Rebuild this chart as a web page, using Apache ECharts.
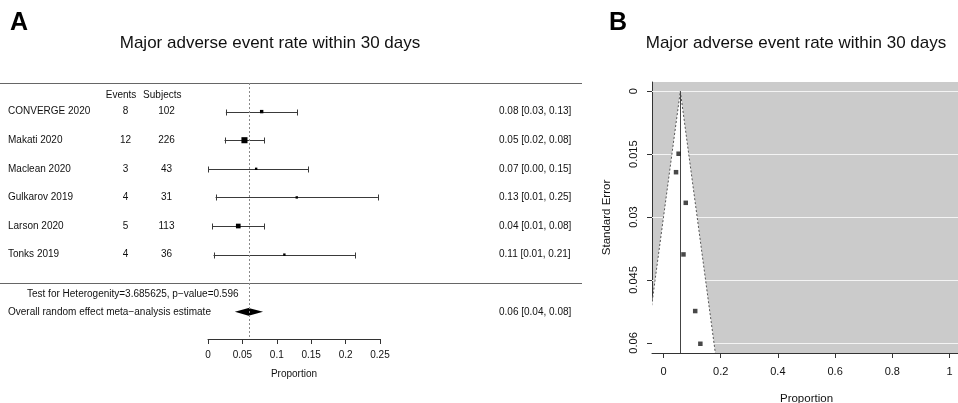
<!DOCTYPE html>
<html><head><meta charset="utf-8">
<script src="https://cdn.jsdelivr.net/npm/echarts@6/dist/echarts.min.js"></script>
<style>html,body{margin:0;padding:0;background:#fff}#c{width:958px;height:403px}</style>
</head><body><div id="c"></div>
<script>
// ---------------- DATA ----------------
const studies = ['CONVERGE 2020','Makati 2020','Maclean 2020','Gulkarov 2019','Larson 2020','Tonks 2019'];
const events = [8, 12, 3, 4, 5, 4];
const subjects = [102, 226, 43, 31, 113, 36];
const estimates = [0.078, 0.053, 0.070, 0.129, 0.044, 0.111];
const ciLower = [0.026, 0.024, 0.000, 0.011, 0.006, 0.008];
const ciUpper = [0.130, 0.082, 0.146, 0.247, 0.082, 0.214];
const ciLabels = ['0.08 [0.03, 0.13]','0.05 [0.02, 0.08]','0.07 [0.00, 0.15]','0.13 [0.01, 0.25]','0.04 [0.01, 0.08]','0.11 [0.01, 0.21]'];
const weightsPct = [14.3, 45.5, 6.7, 2.8, 27.1, 3.7];
const standardErrors = [0.0266, 0.0149, 0.0389, 0.0602, 0.0193, 0.0524];
const overallCI = [0.039, 0.059, 0.080]; // lower, estimate, upper
const overallLabel = '0.06 [0.04, 0.08]';
const heterogeneityText = 'Test for Heterogenity=3.685625, p\u2212value=0.596';
const overallText = 'Overall random effect meta\u2212analysis estimate';
const headerLabels = ['Events', 'Subjects'];
const forestXTicks = [0, 0.05, 0.1, 0.15, 0.2, 0.25];
const funnelXTicks = [0, 0.2, 0.4, 0.6, 0.8, 1];
const funnelYTicks = [0, 0.015, 0.03, 0.045, 0.06];
const titleText = 'Major adverse event rate within 30 days';
const axisName = 'Proportion';
const funnelYName = 'Standard Error';

// ---------------- LAYOUT / STYLE ----------------
const FONT = '"Liberation Sans", Arial, Helvetica, sans-serif';
const TXT = '#111';
const ROW_MAX = 8.95;          // forest y extent (rows)
const HEADER_ROW = 0.42, RULE2_ROW = 7, HET_ROW = 7.39, OVERALL_ROW = 8;
const COL_NAME = 8, COL_EVENTS = 125.5, COL_SUBJ = 166.5, COL_CI = 499, COL_HET = 27;
const HDR_EVENTS = 121, HDR_SUBJ = 162.3;
const FUNNEL_Y_MIN = -0.0022, FUNNEL_Y_MAX = 0.0624, Z = 1.96;

const cells = [];
cells.push({x: HDR_EVENTS, row: HEADER_ROW, text: headerLabels[0], align: 'center'});
cells.push({x: HDR_SUBJ, row: HEADER_ROW, text: headerLabels[1], align: 'center'});
studies.forEach((s, i) => {
  cells.push({x: COL_NAME, row: i + 1, text: s, align: 'left'});
  cells.push({x: COL_EVENTS, row: i + 1, text: String(events[i]), align: 'center'});
  cells.push({x: COL_SUBJ, row: i + 1, text: String(subjects[i]), align: 'center'});
  cells.push({x: COL_CI, row: i + 1, text: ciLabels[i], align: 'left'});
});
cells.push({x: COL_HET, row: HET_ROW, text: heterogeneityText, align: 'left'});
cells.push({x: COL_NAME, row: OVERALL_ROW, text: overallText, align: 'left'});
cells.push({x: COL_CI, row: OVERALL_ROW, text: overallLabel, align: 'left'});

const crisp = v => Math.round(v) + 0.5;

const chart = echarts.init(document.getElementById('c'), null, {renderer: 'canvas'});
const option = {
  animation: false,
  backgroundColor: '#fff',
  textStyle: {fontFamily: FONT},
  graphic: [
    {type: 'text', left: 10, top: 11, style: {text: 'A', font: 'bold 25px ' + FONT, fill: '#000'}},
    {type: 'text', left: 609, top: 11, style: {text: 'B', font: 'bold 25px ' + FONT, fill: '#000'}},
    {type: 'text', x: 270, y: 43, style: {text: titleText, font: '17px ' + FONT, fill: TXT, align: 'center', verticalAlign: 'middle'}},
    {type: 'text', x: 796, y: 43, style: {text: titleText, font: '17px ' + FONT, fill: TXT, align: 'center', verticalAlign: 'middle'}}
  ],
  grid: [
    {left: 0, top: 83, width: 582, height: 256, show: false, outerBoundsMode: 'none', containLabel: false},
    {left: 208, top: 83, width: 172, height: 256, show: false, outerBoundsMode: 'none', containLabel: false},
    {left: 652, top: 82, width: 309, height: 271, show: true, backgroundColor: '#cbcbcb', borderWidth: 0, outerBoundsMode: 'none', containLabel: false}
  ],
  xAxis: [
    {gridIndex: 0, type: 'value', min: 0, max: 582, show: false},
    {gridIndex: 1, type: 'value', min: 0, max: 0.25, interval: 0.05, position: 'bottom',
     axisLine: {show: true, onZero: false, lineStyle: {color: '#333', width: 1}},
     axisTick: {show: true, length: 5, lineStyle: {color: '#333'}},
     axisLabel: {margin: 11, fontSize: 10, color: TXT, fontFamily: FONT, customValues: forestXTicks, formatter: v => String(v)},
     splitLine: {show: false},
     name: axisName, nameLocation: 'middle', nameGap: 30, nameTextStyle: {fontSize: 10, color: TXT, fontFamily: FONT}},
    {gridIndex: 2, type: 'value', min: -0.04, max: 1.04, position: 'bottom',
     axisLine: {show: true, onZero: false, lineStyle: {color: '#333', width: 1}},
     axisTick: {show: true, length: 5, customValues: funnelXTicks, lineStyle: {color: '#333'}},
     axisLabel: {margin: 13, fontSize: 11, color: TXT, fontFamily: FONT, customValues: funnelXTicks, formatter: v => String(v)},
     splitLine: {show: false},
     name: axisName, nameLocation: 'middle', nameGap: 40, nameTextStyle: {fontSize: 11.5, color: TXT, fontFamily: FONT}}
  ],
  yAxis: [
    {gridIndex: 0, type: 'value', min: 0, max: ROW_MAX, inverse: true, show: false},
    {gridIndex: 1, type: 'value', min: 0, max: ROW_MAX, inverse: true, show: false},
    {gridIndex: 2, type: 'value', min: FUNNEL_Y_MIN, max: FUNNEL_Y_MAX, inverse: true, position: 'left',
     axisLine: {show: true, onZero: false, lineStyle: {color: '#333', width: 1}},
     axisTick: {show: true, length: 5, customValues: funnelYTicks, lineStyle: {color: '#333'}},
     axisLabel: {margin: 13, fontSize: 11, color: TXT, fontFamily: FONT, rotate: 90, customValues: funnelYTicks, formatter: v => String(v)},
     splitLine: {show: false},
     name: funnelYName, nameLocation: 'middle', nameGap: 39, nameRotate: 90, nameTextStyle: {fontSize: 11.5, color: TXT, fontFamily: FONT}}
  ],
  series: [
    // table text + horizontal rules
    {type: 'custom', xAxisIndex: 0, yAxisIndex: 0, silent: true,
     data: cells.map(c => [c.x, c.row]),
     renderItem: (params, api) => {
       const c = cells[params.dataIndex];
       const p = api.coord([api.value(0), api.value(1)]);
       return {type: 'text', x: p[0], y: p[1], style: {text: c.text, font: '10px ' + FONT, fill: TXT, align: c.align, verticalAlign: 'middle'}};
     },
     markLine: {silent: true, symbol: ['none', 'none'], label: {show: false},
       lineStyle: {color: '#666', width: 1, type: 'solid'},
       data: [{yAxis: 0}, {yAxis: RULE2_ROW}]}
    },
    // forest CIs and squares
    {type: 'custom', xAxisIndex: 1, yAxisIndex: 1, silent: true, z: 3,
     data: studies.map((s, i) => [ciLower[i], ciUpper[i], estimates[i], i + 1]),
     renderItem: (params, api) => {
       const i = params.dataIndex;
       const row = api.value(3);
       const a = api.coord([api.value(0), row]);
       const b = api.coord([api.value(1), row]);
       const c = api.coord([api.value(2), row]);
       const y = crisp(a[1]);
       const s = Math.max(2.4, 0.9 * Math.sqrt(weightsPct[i]));
       const ls = {stroke: '#3a3a3a', lineWidth: 1};
       return {type: 'group', children: [
         {type: 'line', shape: {x1: a[0], y1: y, x2: b[0], y2: y}, style: ls},
         {type: 'line', shape: {x1: crisp(a[0]), y1: y - 3, x2: crisp(a[0]), y2: y + 3}, style: ls},
         {type: 'line', shape: {x1: crisp(b[0]), y1: y - 3, x2: crisp(b[0]), y2: y + 3}, style: ls},
         {type: 'rect', shape: {x: c[0] - s / 2, y: c[1] - s / 2, width: s, height: s}, style: {fill: '#000'}}
       ]};
     },
     markLine: {silent: true, symbol: ['none', 'none'], label: {show: false},
       lineStyle: {color: '#8a8a8a', width: 1, type: [2, 2]},
       data: [{xAxis: overallCI[1]}]}
    },
    // overall diamond
    {type: 'custom', xAxisIndex: 1, yAxisIndex: 1, silent: true, z: 3,
     data: [[overallCI[0], overallCI[1], overallCI[2], OVERALL_ROW]],
     renderItem: (params, api) => {
       const row = api.value(3);
       const l = api.coord([api.value(0), row]);
       const m = api.coord([api.value(1), row]);
       const r = api.coord([api.value(2), row]);
       return {type: 'polygon', shape: {points: [[l[0], l[1]], [m[0], m[1] - 3.8], [r[0], r[1]], [m[0], m[1] + 3.8]]}, style: {fill: '#000'}};
     }
    },
    // funnel white gridlines
    {type: 'custom', xAxisIndex: 2, yAxisIndex: 2, silent: true, z: 1,
     data: funnelYTicks.map(v => [v]),
     renderItem: (params, api) => {
       const v = api.value(0);
       const p1 = api.coord([-0.04, v]);
       const p2 = api.coord([1.04, v]);
       return {type: 'line', shape: {x1: p1[0], y1: crisp(p1[1]), x2: p2[0], y2: crisp(p1[1])}, style: {stroke: '#f4f4f4', lineWidth: 1}};
     }
    },
    // funnel region
    {type: 'custom', xAxisIndex: 2, yAxisIndex: 2, silent: true, z: 2, clip: true,
     data: [[overallCI[1]]],
     renderItem: (params, api) => {
       const cx = api.value(0);
       const apex = api.coord([cx, 0]);
       const bl = api.coord([cx - Z * FUNNEL_Y_MAX, FUNNEL_Y_MAX]);
       const br = api.coord([cx + Z * FUNNEL_Y_MAX, FUNNEL_Y_MAX]);
       const bot = api.coord([cx, FUNNEL_Y_MAX]);
       return {type: 'group', children: [
         {type: 'polygon', shape: {points: [apex, br, bl]}, style: {fill: '#fff'}},
         {type: 'polyline', shape: {points: [bl, apex, br]}, style: {stroke: '#555', lineWidth: 1, lineDash: [2, 2], fill: null}},
         {type: 'line', shape: {x1: crisp(apex[0]), y1: apex[1], x2: crisp(apex[0]), y2: bot[1]}, style: {stroke: '#444', lineWidth: 1}}
       ]};
     }
    },
    // funnel points
    {type: 'scatter', xAxisIndex: 2, yAxisIndex: 2, silent: true, z: 4,
     symbol: 'rect', symbolSize: 4.5,
     itemStyle: {color: '#1a1a1a'},
     data: estimates.map((e, i) => [e, standardErrors[i]])
    }
  ]
};
chart.setOption(option);
</script>
</body></html>
